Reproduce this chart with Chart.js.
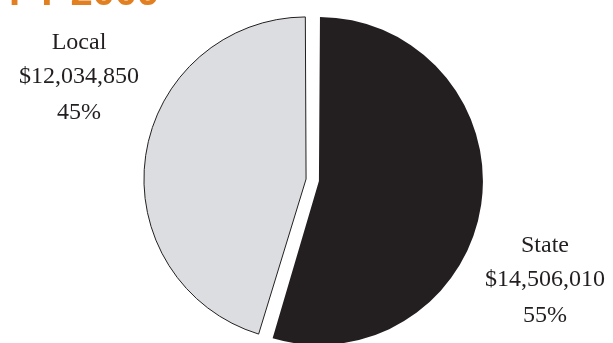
<!DOCTYPE html>
<html>
<head>
<meta charset="utf-8">
<script src="https://cdn.jsdelivr.net/npm/chart.js@4"></script>
<style>
  html, body { margin: 0; padding: 0; background: #fff; overflow: hidden; }
  #wrap { position: relative; width: 613px; height: 360px; }
  #title {
    position: absolute; left: 9px; top: -29px;
    font: bold 40px "Liberation Sans", Arial, sans-serif;
    line-height: 40px; color: #e27f20; white-space: nowrap;
  }
</style>
</head>
<body>
<div id="wrap">
  <canvas id="pieChart" width="613" height="360"></canvas>
  <div id="title">FY 2009</div>
</div>
<script>
const categories = ["State", "Local"];
const amounts = [14506010, 12034850];
const sliceColors = ["#231f20", "#dcdde0"];

const total = amounts.reduce((a, b) => a + b, 0);

// where the text blocks sit (center x, first baseline)
const labelSpots = [
  { x: 545, y: 252 },
  { x: 79, y: 49 }
];

const sliceLabels = {
  id: "sliceLabels",
  afterDraw(chart) {
    const ctx = chart.ctx;
    ctx.save();
    ctx.font = '24px "Liberation Serif", "Times New Roman", serif';
    ctx.fillStyle = "#231f20";
    ctx.textAlign = "center";
    ctx.textBaseline = "alphabetic";
    categories.forEach((name, i) => {
      const spot = labelSpots[i];
      const pct = Math.round((amounts[i] / total) * 100) + "%";
      const money = "$" + amounts[i].toLocaleString("en-US");
      ctx.fillText(name, spot.x, spot.y);
      ctx.fillText(money, spot.x, spot.y + 34);
      ctx.fillText(pct, spot.x, spot.y + 70);
    });
    ctx.restore();
  }
};

new Chart(document.getElementById("pieChart"), {
  type: "pie",
  data: {
    labels: categories,
    datasets: [{
      data: amounts,
      backgroundColor: sliceColors,
      borderColor: ["#231f20", "#231f20"],
      borderWidth: [0, 1],
      hoverBorderWidth: [0, 1],
      offset: [26, 26],
      hoverOffset: 0
    }]
  },
  options: {
    responsive: false,
    animation: false,
    events: [],
    rotation: 0,
    layout: { padding: { left: 141.5, right: 129.5, top: 9, bottom: 9 } },
    plugins: {
      legend: { display: false },
      tooltip: { enabled: false },
      title: { display: false }
    }
  },
  plugins: [sliceLabels]
});
</script>
</body>
</html>
